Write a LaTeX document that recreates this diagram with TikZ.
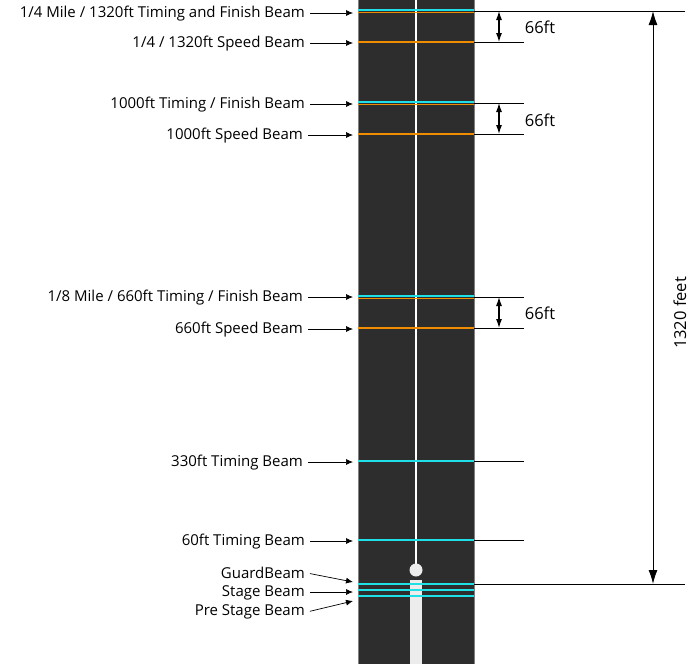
\documentclass[tikz,border=0pt]{standalone}
\usepackage{fontspec}
\setmainfont{Open Sans}
\usetikzlibrary{arrows.meta}
\definecolor{trackgray}{HTML}{2D2D2D}
\definecolor{beamcyan}{HTML}{1EE0E6}
\definecolor{beamorange}{HTML}{F08C00}
\tikzset{
  beamlbl/.style={anchor=east,inner sep=2pt,font=\fontsize{15}{17}\selectfont},
  dimlbl/.style={font=\fontsize{16.5}{19}\selectfont},
  pointer/.style={-{Latex[length=7pt,width=6pt]},line width=0.7pt,shorten <=3pt},
  cyanbeam/.style={beamcyan,line width=1.5pt},
  orangebeam/.style={beamorange,line width=1.5pt},
  extline/.style={black,line width=0.9pt},
  dimarrow/.style={{Latex[length=9pt,width=6pt]}-{Latex[length=9pt,width=6pt]},line width=1.1pt},
}
\begin{document}
\begin{tikzpicture}[x=1pt,y=-1pt]
\useasboundingbox (0,0) rectangle (697,664);
% track
\fill[trackgray,draw=gray,line width=0.8pt] (358,-2) rectangle (474,666);
\draw[white,line width=1.2pt] (416,-2) -- (416,566);
\fill[gray!15] (416,570) circle (6.5pt);
\fill[gray!15] (410,580) rectangle (422,666);
% beams
\draw[cyanbeam] (358,10) -- (474,10);
\draw[orangebeam] (358,12.5) -- (474,12.5);
\draw[orangebeam] (358,42) -- (474,42);
\draw[cyanbeam] (358,102) -- (474,102);
\draw[orangebeam] (358,104.5) -- (474,104.5);
\draw[orangebeam] (358,134) -- (474,134);
\draw[cyanbeam] (358,296) -- (474,296);
\draw[orangebeam] (358,298.5) -- (474,298.5);
\draw[orangebeam] (358,328) -- (474,328);
\draw[cyanbeam] (358,461) -- (474,461);
\draw[cyanbeam] (358,540) -- (474,540);
\draw[cyanbeam] (358,584) -- (474,584);
\draw[cyanbeam] (358,590) -- (474,590);
\draw[cyanbeam] (358,596) -- (474,596);
% extension lines
\draw[extline] (474,11) -- (685,11);
\draw[extline] (474,42) -- (524,42);
\draw[extline] (474,103) -- (524,103);
\draw[extline] (474,134) -- (524,134);
\draw[extline] (474,297) -- (524,297);
\draw[extline] (474,328) -- (524,328);
\draw[extline] (474,461) -- (524,461);
\draw[extline] (474,540) -- (524,540);
\draw[extline] (474,584) -- (685,584);
% labels
\node[beamlbl] (quarter) at (307,14) {1/4 Mile / 1320ft Timing and Finish Beam};
\node[beamlbl] (quarterspd) at (307,44) {1/4 / 1320ft Speed Beam};
\node[beamlbl] (thou) at (307,105) {1000ft Timing / Finish Beam};
\node[beamlbl] (thouspd) at (305,136) {1000ft Speed Beam};
\node[beamlbl] (eighth) at (305,298) {1/8 Mile / 660ft Timing / Finish Beam};
\node[beamlbl] (eighthspd) at (305,330) {660ft Speed Beam};
\node[beamlbl] (threethirty) at (305,463) {330ft Timing Beam};
\node[beamlbl] (sixty) at (307,542) {60ft Timing Beam};
\node[beamlbl] (guard) at (307,573) {GuardBeam};
\node[beamlbl] (stage) at (307,593) {Stage Beam};
\node[beamlbl] (prestage) at (307,612) {Pre Stage Beam};
\coordinate (quarterend) at (353,13);
\coordinate (quarterspdend) at (353,43);
\coordinate (thouend) at (353,104);
\coordinate (thouspdend) at (353,135);
\coordinate (eighthend) at (353,297);
\coordinate (eighthspdend) at (353,329);
\coordinate (threethirtyend) at (353,462);
\coordinate (sixtyend) at (353,541);
\coordinate (guardend) at (353,582);
\coordinate (stageend) at (353,592);
\coordinate (prestageend) at (353,601);
\draw[pointer] (quarter.east |- quarterend) -- (quarterend);
\draw[pointer] (quarterspd.east |- quarterspdend) -- (quarterspdend);
\draw[pointer] (thou.east |- thouend) -- (thouend);
\draw[pointer] (thouspd.east |- thouspdend) -- (thouspdend);
\draw[pointer] (eighth.east |- eighthend) -- (eighthend);
\draw[pointer] (eighthspd.east |- eighthspdend) -- (eighthspdend);
\draw[pointer] (threethirty.east |- threethirtyend) -- (threethirtyend);
\draw[pointer] (sixty.east |- sixtyend) -- (sixtyend);
\draw[pointer] (guard.east) -- (guardend);
\draw[pointer] (stage.east |- stageend) -- (stageend);
\draw[pointer] (prestage.east) -- (prestageend);
% 66ft spacings
\draw[dimarrow] (499,11) -- (499,42);
\node[dimlbl] (dimquarter) at (540,27) {66ft};
\draw[dimarrow] (499,103) -- (499,134);
\node[dimlbl] (dimthou) at (540,120) {66ft};
\draw[dimarrow] (499,297) -- (499,328);
\node[dimlbl] (dimeighth) at (540,313) {66ft};
% overall length
\draw[{Latex[length=14pt,width=9pt]}-{Latex[length=14pt,width=9pt]},line width=1pt] (653,11) -- (653,584);
\node[dimlbl,rotate=90] (total) at (680,313) {1320 feet};
\end{tikzpicture}
\end{document}
